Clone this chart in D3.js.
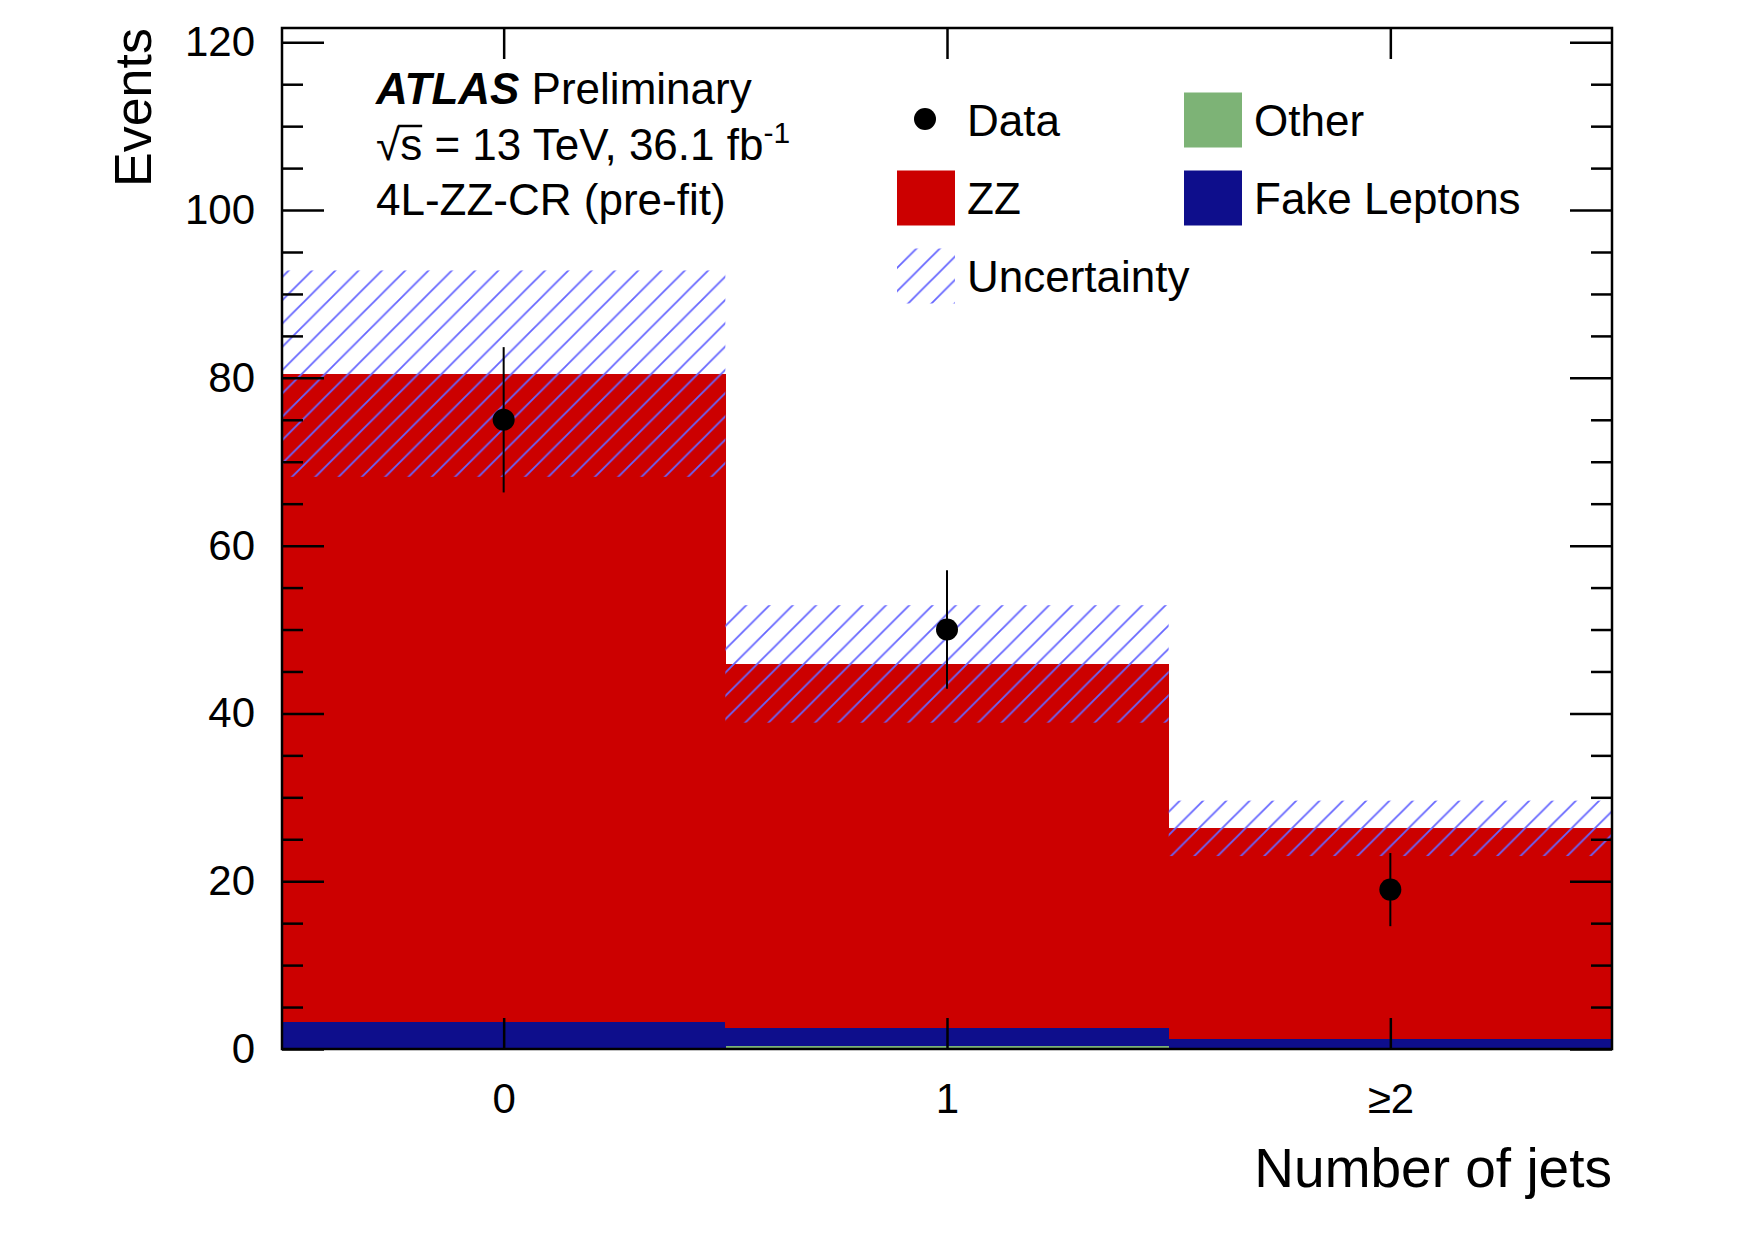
<!DOCTYPE html>
<html>
<head>
<meta charset="utf-8">
<script src="https://cdn.jsdelivr.net/npm/d3@7"></script>
<style>
  body { margin: 0; background: #fff; }
  text { font-family: "Liberation Sans", Arial, Helvetica, sans-serif; fill: #000; }
</style>
</head>
<body>
<div id="chart"></div>
<script>
// Bins: number of jets
const bins = [0, 1, 2]
const binLabels = ["0", "1", "\u22652"]

// Stacked backgrounds, bottom to top
const other = [0.0, 0.3, 0.05]
const fakeLeptons = [3.2, 2.2, 1.15]
const zz = [77.3, 43.4, 25.1]

// Total uncertainty (symmetric) on the stack
const uncertainty = [12.3, 7.0, 3.3]

// Observed data
const data = [75, 50, 19]

const yMajorTicks = [0, 20, 40, 60, 80, 100, 120]
const yMax = 121.7

const width = 1755
const height = 1240
const margin = { left: 282, right: 143, top: 28, bottom: 191 }

const colors = {
  other: "#7db376",
  fake: "#0e0e8c",
  zz: "#cc0000",
  hatch: "#6666ff"
}

const svg = d3.select("#chart").append("svg")
  .attr("width", width)
  .attr("height", height)

svg.append("rect").attr("width", width).attr("height", height).attr("fill", "#fff")

const x = d3.scaleLinear()
  .domain([-0.5, 2.5])
  .range([margin.left, width - margin.right])

const y = d3.scaleLinear()
  .domain([0, yMax])
  .range([height - margin.bottom, margin.top])

// hatch pattern for the uncertainty band
const s = 23.3
svg.append("defs").append("pattern")
  .attr("id", "hatch")
  .attr("patternUnits", "userSpaceOnUse")
  .attr("width", s)
  .attr("height", s)
  .append("path")
  .attr("d", "M" + (-s / 4) + "," + (s / 4) + " L" + (s / 4) + "," + (-s / 4) +
    " M0," + s + " L" + s + ",0" +
    " M" + (3 * s / 4) + "," + (5 * s / 4) + " L" + (5 * s / 4) + "," + (3 * s / 4))
  .attr("stroke", colors.hatch)
  .attr("stroke-width", 1.8)

// stack the backgrounds
const stackRows = bins.map(function(b, i) {
  return { bin: b, other: other[i], fake: fakeLeptons[i], zz: zz[i] }
})
const stack = d3.stack().keys(["other", "fake", "zz"])(stackRows)
const keyColor = { other: colors.other, fake: colors.fake, zz: colors.zz }

const stackG = svg.append("g").attr("class", "stack").attr("shape-rendering", "crispEdges")
stack.forEach(function(layer) {
  stackG.selectAll(null)
    .data(layer)
    .enter().append("rect")
    .attr("x", function(d) { return x(d.data.bin - 0.5) })
    .attr("width", function(d) { return x(d.data.bin + 0.5) - x(d.data.bin - 0.5) + 0.5 })
    .attr("y", function(d) { return y(d[1]) })
    .attr("height", function(d) { return y(d[0]) - y(d[1]) })
    .attr("fill", keyColor[layer.key])
})

// uncertainty band
const totals = bins.map(function(b, i) { return other[i] + fakeLeptons[i] + zz[i] })
svg.append("g").selectAll("rect")
  .data(bins)
  .enter().append("rect")
  .attr("x", function(b) { return x(b - 0.5) })
  .attr("width", function(b) { return x(b + 0.5) - x(b - 0.5) })
  .attr("y", function(b, i) { return y(totals[i] + uncertainty[i]) })
  .attr("height", function(b, i) { return y(totals[i] - uncertainty[i]) - y(totals[i] + uncertainty[i]) })
  .attr("fill", "url(#hatch)")

// data points with sqrt(N) errors
const dataG = svg.append("g")
dataG.selectAll("line")
  .data(bins)
  .enter().append("line")
  .attr("x1", function(b) { return x(b) })
  .attr("x2", function(b) { return x(b) })
  .attr("y1", function(b, i) { return y(data[i] + Math.sqrt(data[i])) })
  .attr("y2", function(b, i) { return y(data[i] - Math.sqrt(data[i])) })
  .attr("stroke", "#000")
  .attr("stroke-width", 2)
dataG.selectAll("circle")
  .data(bins)
  .enter().append("circle")
  .attr("cx", function(b) { return x(b) })
  .attr("cy", function(b, i) { return y(data[i]) })
  .attr("r", 11)
  .attr("fill", "#000")

// axes
const yMinorTicks = d3.range(0, yMax, 5).filter(function(v) { return v % 20 !== 0 })
const majorLen = 42
const minorLen = 21
const xTickLen = 31

function styleAxis(g) {
  g.select(".domain").remove()
  g.selectAll(".tick line").attr("stroke", "#000").attr("stroke-width", 2.5)
  g.selectAll(".tick text").attr("font-size", 42).attr("fill", "#000")
    .attr("font-family", "Liberation Sans, Arial, Helvetica, sans-serif")
}

svg.append("g")
  .attr("transform", "translate(" + margin.left + ",0)")
  .call(d3.axisLeft(y).tickValues(yMajorTicks).tickSize(-majorLen).tickPadding(27))
  .call(styleAxis)
svg.append("g")
  .attr("transform", "translate(" + margin.left + ",0)")
  .call(d3.axisLeft(y).tickValues(yMinorTicks).tickSize(-minorLen).tickFormat(""))
  .call(styleAxis)
svg.append("g")
  .attr("transform", "translate(" + (width - margin.right) + ",0)")
  .call(d3.axisRight(y).tickValues(yMajorTicks).tickSize(-majorLen).tickFormat(""))
  .call(styleAxis)
svg.append("g")
  .attr("transform", "translate(" + (width - margin.right) + ",0)")
  .call(d3.axisRight(y).tickValues(yMinorTicks).tickSize(-minorLen).tickFormat(""))
  .call(styleAxis)

svg.append("g")
  .attr("transform", "translate(0," + (height - margin.bottom) + ")")
  .call(d3.axisBottom(x).tickValues(bins).tickSize(-xTickLen).tickPadding(34)
    .tickFormat(function(d, i) { return binLabels[i] }))
  .call(styleAxis)
svg.append("g")
  .attr("transform", "translate(0," + margin.top + ")")
  .call(d3.axisTop(x).tickValues(bins).tickSize(-xTickLen).tickFormat(""))
  .call(styleAxis)

// frame
svg.append("rect")
  .attr("x", margin.left)
  .attr("y", margin.top)
  .attr("width", width - margin.left - margin.right)
  .attr("height", height - margin.top - margin.bottom)
  .attr("fill", "none")
  .attr("stroke", "#000")
  .attr("stroke-width", 2.5)

// axis titles
svg.append("text")
  .attr("x", width - margin.right)
  .attr("y", 1187)
  .attr("text-anchor", "end")
  .attr("font-size", 55)
  .text("Number of jets")

svg.append("text")
  .attr("transform", "translate(151," + margin.top + ") rotate(-90)")
  .attr("text-anchor", "end")
  .attr("font-size", 52)
  .text("Events")

// ATLAS label
const lbl = svg.append("text").attr("x", 376).attr("y", 104).attr("font-size", 44)
lbl.append("tspan").attr("font-weight", "bold").attr("font-style", "italic").text("ATLAS")
lbl.append("tspan").text(" Preliminary")

const lumi = svg.append("text").attr("x", 376).attr("y", 160).attr("font-size", 44)
lumi.append("tspan").text("\u221As")
lumi.append("tspan").text(" = 13 TeV, 36.1 fb")
lumi.append("tspan").attr("font-size", 30).attr("dy", -17).text("-1")

// bar over the "s" of the square root, measured from the rendered glyphs
const lumiNode = lumi.node()
const barX1 = lumiNode.getEndPositionOfChar(0).x - 2
const barX2 = lumiNode.getEndPositionOfChar(1).x
svg.append("line")
  .attr("x1", barX1).attr("x2", barX2)
  .attr("y1", 160 - 34).attr("y2", 160 - 34)
  .attr("stroke", "#000")
  .attr("stroke-width", 2.5)

svg.append("text").attr("x", 376).attr("y", 215).attr("font-size", 44)
  .text("4L-ZZ-CR (pre-fit)")

// legend
const legendItems = [
  { label: "Data", type: "marker", col: 0, row: 0 },
  { label: "Other", type: "box", fill: colors.other, col: 1, row: 0 },
  { label: "ZZ", type: "box", fill: colors.zz, col: 0, row: 1 },
  { label: "Fake Leptons", type: "box", fill: colors.fake, col: 1, row: 1 },
  { label: "Uncertainty", type: "box", fill: "url(#hatch)", col: 0, row: 2 }
]
const colBoxX = [897, 1184]
const rowY = [120, 198, 276]
const boxW = 58
const boxH = 55

const legend = svg.append("g").attr("class", "legend")
legendItems.forEach(function(item) {
  const bx = colBoxX[item.col]
  const cy = rowY[item.row]
  if (item.type === "marker") {
    legend.append("circle").attr("cx", bx + boxW / 2 - 1).attr("cy", cy - 1).attr("r", 11).attr("fill", "#000")
  } else {
    legend.append("rect")
      .attr("x", bx).attr("y", cy - boxH / 2)
      .attr("width", boxW).attr("height", boxH)
      .attr("fill", item.fill)
  }
  legend.append("text")
    .attr("x", bx + 70)
    .attr("y", cy + 16)
    .attr("font-size", 44)
    .text(item.label)
})
</script>
</body>
</html>
